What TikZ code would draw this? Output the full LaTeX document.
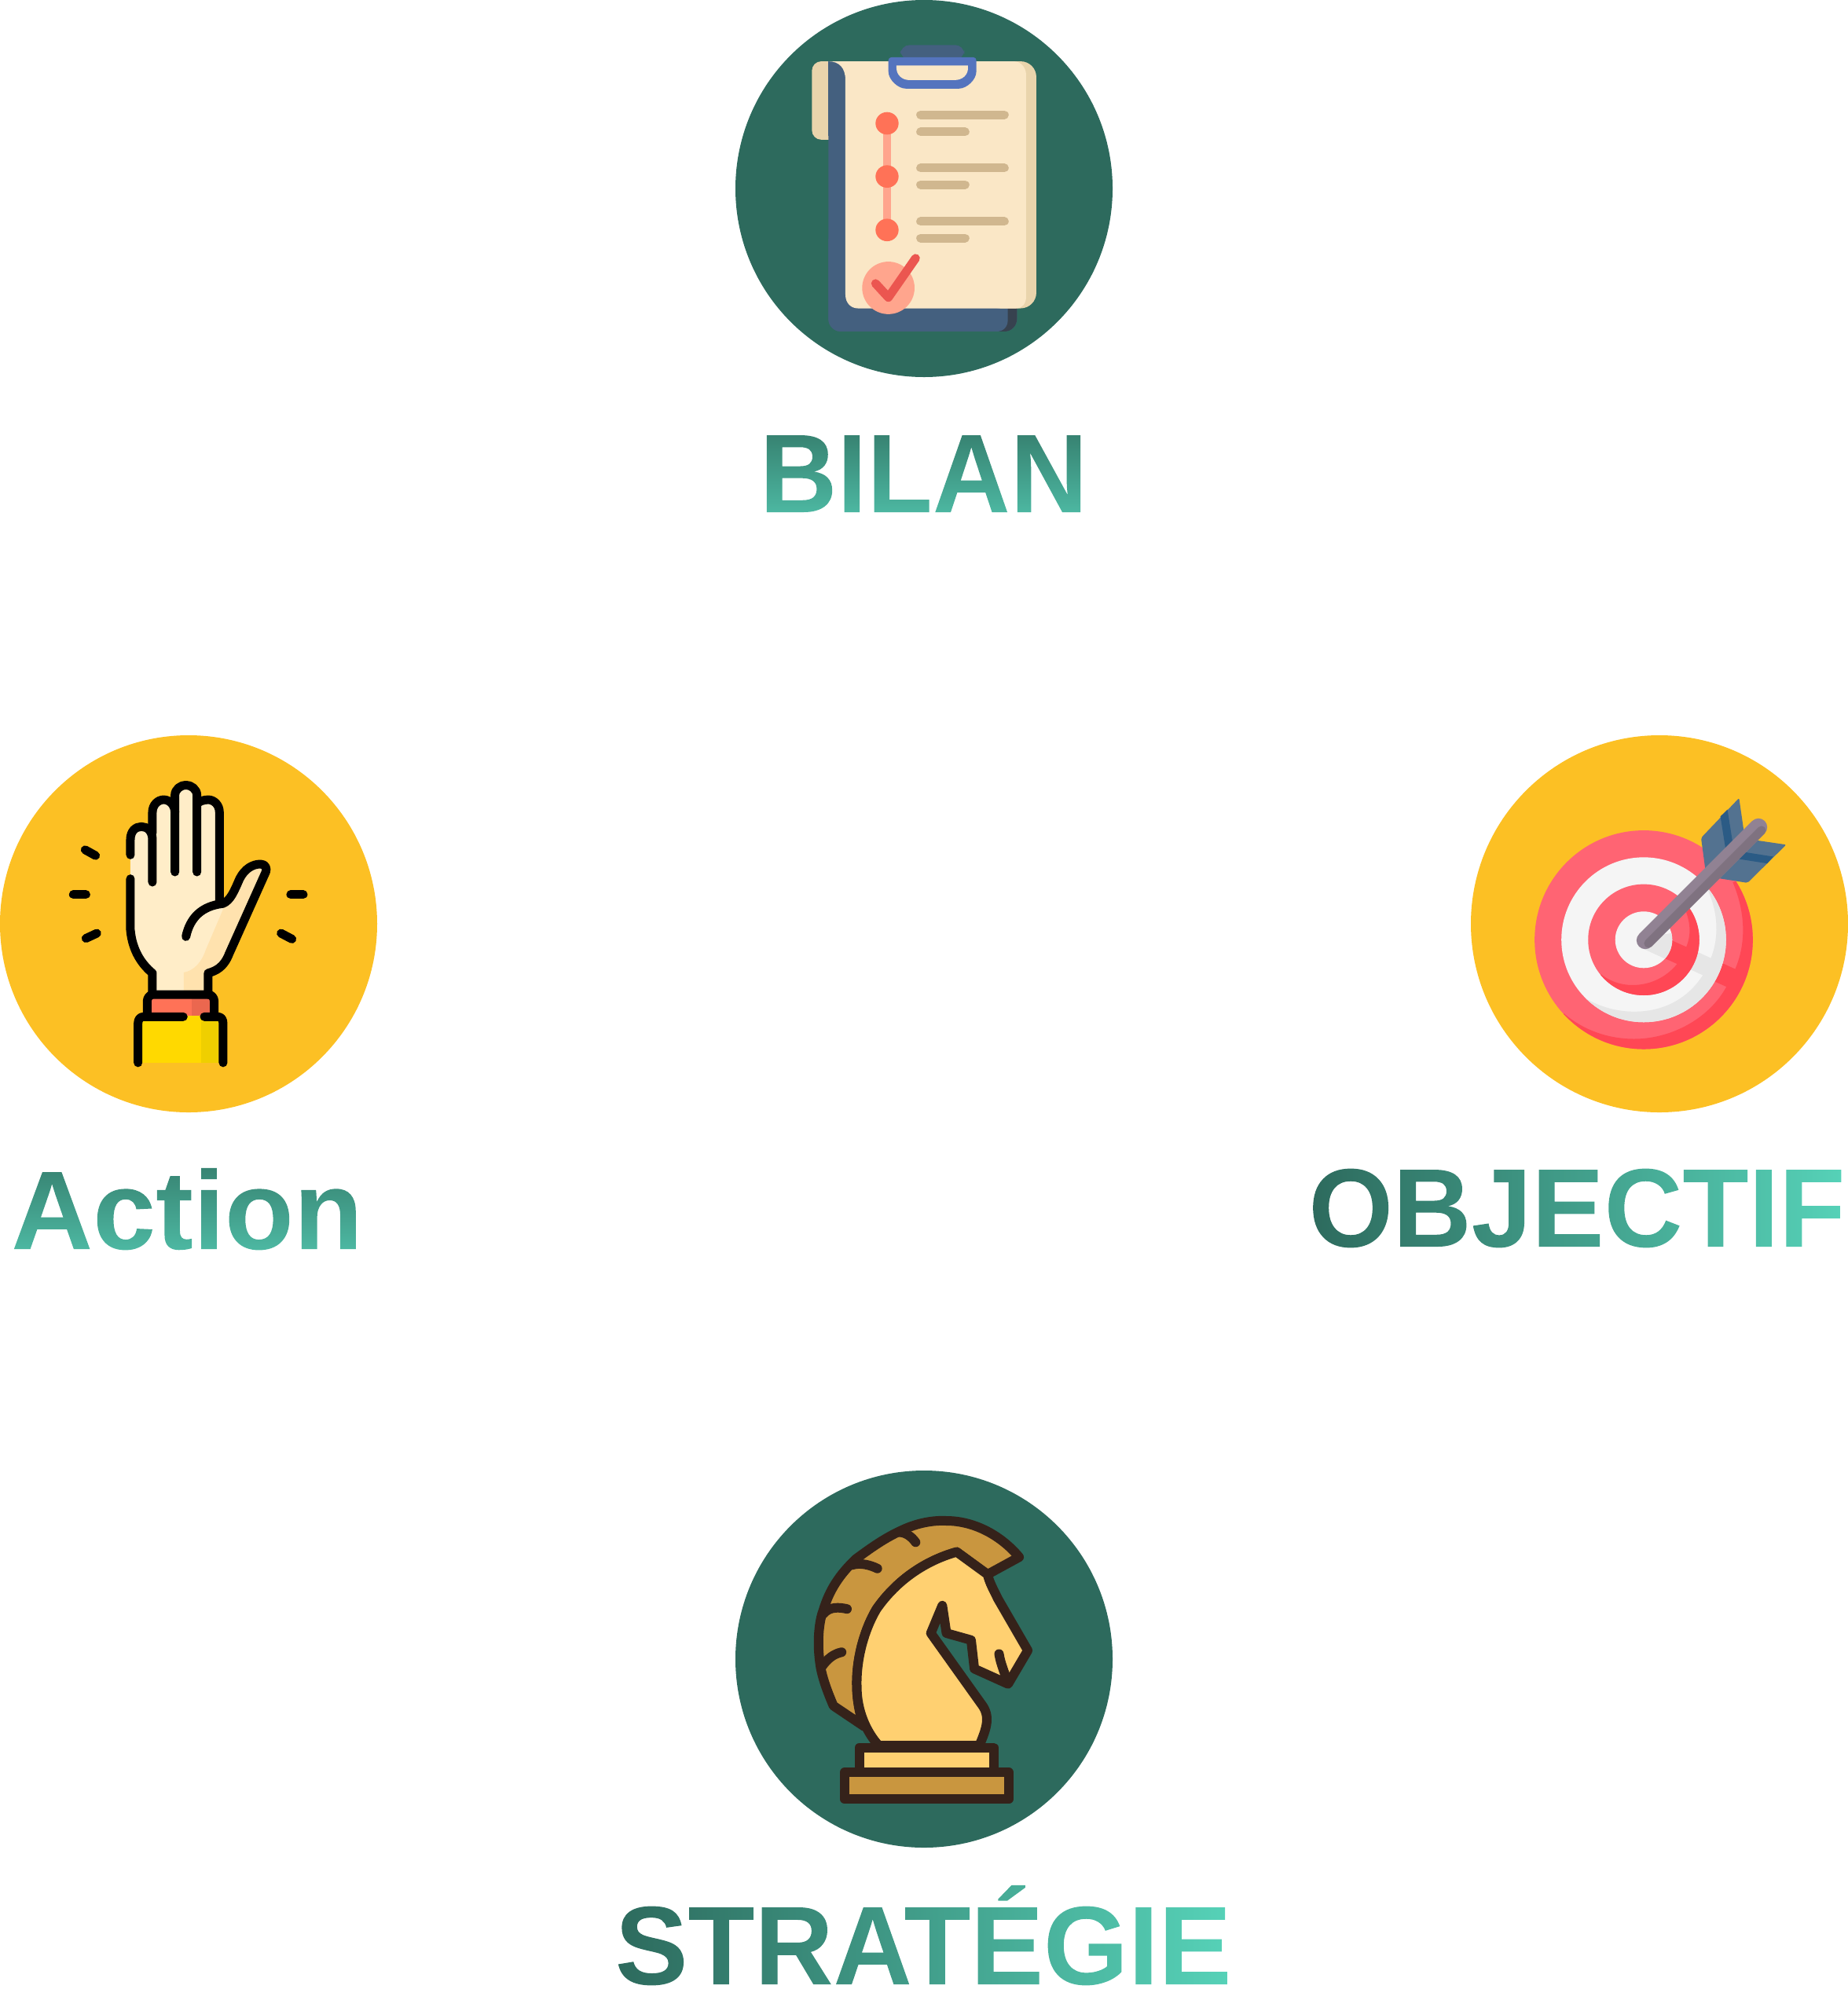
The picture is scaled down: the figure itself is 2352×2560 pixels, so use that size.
\documentclass[tikz,border=0pt]{standalone}
\usepackage{fontspec}
\usetikzlibrary{calc}
\setmainfont{Liberation Sans}
\definecolor{tealc}{HTML}{2D6A5D}
\definecolor{yellowc}{HTML}{FCC024}
\definecolor{gradtop}{HTML}{36806F}
\definecolor{gradbot}{HTML}{4EBBA5}
\definecolor{gradleft}{HTML}{2D6A5D}
\definecolor{gradright}{HTML}{56D2B8}
\definecolor{paper}{HTML}{FAE7C6}
\definecolor{papers}{HTML}{E9D4AC}
\definecolor{board}{HTML}{44607F}
\definecolor{boardd}{HTML}{37424F}
\definecolor{clipb}{HTML}{5474BE}
\definecolor{bull}{HTML}{FF7257}
\definecolor{bulll}{HTML}{FFA58D}
\definecolor{tline}{HTML}{D0B78F}
\definecolor{chk}{HTML}{EB5650}
\definecolor{skin}{HTML}{FFEDC8}
\definecolor{skind}{HTML}{FFE2AE}
\definecolor{cuff}{HTML}{FF7257}
\definecolor{cuffd}{HTML}{EB674F}
\definecolor{slv}{HTML}{FFD900}
\definecolor{slvd}{HTML}{EFCF00}
\definecolor{tpink}{HTML}{FF6473}
\definecolor{tred}{HTML}{FF4755}
\definecolor{twhite}{HTML}{F5F5F5}
\definecolor{tgrey}{HTML}{E6E6E6}
\definecolor{shaft}{HTML}{918293}
\definecolor{shaftd}{HTML}{7F7280}
\definecolor{vane}{HTML}{537290}
\definecolor{vaned}{HTML}{2B5B85}
\definecolor{kdark}{HTML}{35221A}
\definecolor{kmane}{HTML}{C9963F}
\definecolor{khead}{HTML}{FFD071}
\newfontface\fontBilan[FakeStretch=0.96]{Liberation Sans Bold}
\newfontface\fontAction[FakeStretch=1.01]{Liberation Sans Bold}
\newfontface\fontObjectif[FakeStretch=0.97]{Liberation Sans Bold}
\newfontface\fontStrategie[FakeStretch=0.975]{Liberation Sans Bold}
\newsavebox\gtbox
% text used as a clipping path, painted by a gradient
\newcommand{\gradtext}[4]{%
  \sbox\gtbox{#1\fontsize{35.6pt}{40pt}\selectfont #2}%
  \leavevmode\special{pdf:code 7 Tr}\usebox\gtbox\special{pdf:code 0 Tr}%
  \makebox[0pt][r]{\begin{tikzpicture}[baseline=0pt]
    \shade[#3] (-\wd\gtbox,-2pt) rectangle (0pt,#4);
  \end{tikzpicture}}}
\tikzset{
  labelnode/.style={inner sep=0pt,outer sep=0pt,text height=34pt,text depth=10pt},
  disc/.style={circle,minimum size=120pt,inner sep=0pt,outer sep=0pt},
  handline/.style={draw=black,line width=2.75pt,line cap=round,line join=round},
  knightline/.style={draw=kdark,line width=3pt,line cap=round,line join=round},
  vgrad/.style={top color=gradtop,bottom color=gradbot},
  hgrad/.style={left color=gradleft,right color=gradright}
}
\begin{document}
\begin{tikzpicture}[x=0.25pt,y=-0.25pt]
\useasboundingbox (0,0) rectangle (2352,2560);
% discs
\node[disc,fill=tealc] (bilan) at (1176,240) {};
\node[disc,fill=yellowc] (action) at (240,1176) {};
\node[disc,fill=yellowc] (objectif) at (2112,1176) {};
\node[disc,fill=tealc] (strategie) at (1176,2112) {};
% ---------- clipboard
\begin{scope}[shift={(920,0)},xscale=0.3333,yscale=0.4337]
\fill[papers,rounded corners=3pt] (340,180) rectangle (440,410);
\fill[board,rounded corners=4pt] (403,300) rectangle (1123,973);
\fill[board] (403,180) rectangle (500,400);
\begin{scope}
\clip[rounded corners=4pt] (403,300) rectangle (1123,973);
\fill[boardd] (1040,880) rectangle (1130,980);
\fill[board] (380,700) -- (1088,700) -- (1088,940) .. controls (1088,960) and (1070,973) .. (1045,973) -- (380,973) -- cycle;
\end{scope}
\fill[papers,rounded corners=5pt] (1000,180) rectangle (1197,905);
\fill[paper] (403,180) .. controls (445,180) and (468,200) .. (468,235) -- (468,865)
  .. controls (468,890) and (490,905) .. (515,905) -- (1120,905)
  .. controls (1145,905) and (1158,890) .. (1158,870) -- (1158,220)
  .. controls (1158,200) and (1140,180) .. (1110,180) -- cycle;
\fill[board,rounded corners=3pt] (678,175) -- (678,132) -- (922,132) -- (922,175) -- cycle;
\fill[clipb,rounded corners=1pt] (632,168) -- (968,168) -- (968,200) .. controls (968,235) and (930,260) .. (890,260) -- (710,260) .. controls (670,260) and (632,235) .. (632,200) -- cycle;
\fill[paper] (663,192) -- (936,192) -- (936,200) .. controls (936,220) and (915,235) .. (885,235) -- (712,235) .. controls (685,235) and (663,220) .. (663,200) -- cycle;
\fill[bulll] (611,362) rectangle (643,675);
\foreach \yy in {362,518,675} \fill[bull] (627,\yy) circle [x radius=44,y radius=33];
\foreach \yy in {337,493,650} \draw[tline,line width=2.75pt,line cap=round] (755,\yy) -- (1075,\yy);
\foreach \yy in {387,542,699} \draw[tline,line width=2.75pt,line cap=round] (755,\yy) -- (925,\yy);
\fill[bulll] (632,845) circle [x radius=100,y radius=77];
\draw[chk,line width=2.75pt,line cap=round,line join=round] (583,832) -- (632,873) -- (736,758);
\end{scope}
% ---------- hand
\begin{scope}[shift={(0,930)},xscale=0.3333,yscale=0.4337]
\fill[skin] (498,600) .. controls (505,650) and (540,685) .. (582,710) -- (582,780) -- (795,780) -- (795,710)
  .. controls (830,705) and (860,685) .. (875,655) -- (1015,410) .. controls (1015,395) and (1000,392) .. (985,392)
  .. controls (930,395) and (915,425) .. (905,445) -- (860,505) -- (838,505) -- (838,240)
  .. controls (838,215) and (815,203) .. (795,203) .. controls (775,203) and (752,215) .. (752,190)
  .. controls (752,175) and (730,160) .. (710,160) .. controls (690,160) and (668,175) .. (668,205)
  .. controls (668,215) and (645,203) .. (625,203) .. controls (605,203) and (582,220) .. (582,300)
  .. controls (570,290) and (555,282) .. (540,282) .. controls (515,282) and (498,300) .. (498,320) -- cycle;
\fill[skind] (860,510) .. controls (880,500) and (900,460) .. (910,440) .. controls (925,410) and (960,392) .. (995,392) .. controls (1010,392) and (1015,400) .. (1015,410) -- (875,655) .. controls (855,695) and (825,705) .. (795,710) -- (795,775) -- (702,775) -- (702,710) .. controls (740,705) and (770,680) .. (785,645) -- cycle;
\fill[cuff] (570,785) rectangle (810,850);
\fill[cuffd] (732,785) rectangle (810,850);
\fill[slv] (543,850) rectangle (835,975);
\fill[slv] (710,838) rectangle (770,852);
\fill[slvd] (768,852) rectangle (835,975);
\draw[handline] (498,365) -- (498,320) .. controls (498,295) and (518,282) .. (540,282) .. controls (562,282) and (582,295) .. (582,320) -- (582,445);
\draw[handline] (582,300) -- (582,240) .. controls (582,218) and (603,203) .. (625,203) .. controls (647,203) and (668,218) .. (668,240) -- (668,415);
\draw[handline] (668,240) -- (668,190) .. controls (668,172) and (690,160) .. (710,160) .. controls (730,160) and (752,172) .. (752,190) -- (752,415);
\draw[handline] (752,215) .. controls (760,208) and (778,203) .. (795,203) .. controls (817,203) and (838,218) .. (838,240) -- (838,500);
\draw[handline] (498,435) -- (498,585) .. controls (505,645) and (540,685) .. (582,712) -- (582,775);
\draw[handline] (710,605) .. controls (725,550) and (770,515) .. (850,508) .. controls (880,500) and (895,470) .. (915,435) .. controls (935,405) and (965,392) .. (995,392) .. controls (1015,392) and (1020,405) .. (1015,415) -- (875,655) .. controls (855,695) and (825,705) .. (795,712) -- (795,775);
\draw[handline] (562,838) -- (562,795) .. controls (562,785) and (570,778) .. (580,775) -- (800,775) .. controls (810,778) and (818,785) .. (818,795) -- (818,838);
\draw[handline] (527,975) -- (527,860) .. controls (527,848) and (535,840) .. (548,840) -- (700,840);
\draw[handline] (780,840) -- (832,840) .. controls (845,840) and (852,848) .. (852,860) -- (852,975);
\draw[handline] (325,350) -- (365,367);
\draw[handline] (280,481) -- (328,481);
\draw[handline] (328,610) -- (370,595);
\draw[handline] (1110,481) -- (1158,481);
\draw[handline] (1073,595) -- (1115,612);
\end{scope}
% ---------- target
\begin{scope}[shift={(1650,930)},xscale=0.4478,yscale=0.4337]
\fill[tpink] (987,614) circle [x radius=310,y radius=321];
\begin{scope}
\clip (987,614) circle [x radius=310,y radius=321];
\fill[tred] (1240,445) .. controls (1275,530) and (1280,620) .. (1247,700) -- (1120,640) -- (1090,690) -- (1222,752)
  .. controls (1170,850) and (1060,905) .. (960,905) .. controls (880,905) and (810,875) .. (760,830) -- (700,1000) -- (1400,1000) -- (1400,400) -- cycle;
\end{scope}
\fill[twhite] (987,614) circle [x radius=234,y radius=242];
\begin{scope}
\clip (987,614) circle [x radius=234,y radius=242];
\fill[tgrey] (1170,470) .. controls (1200,540) and (1200,610) .. (1178,668) -- (1040,602) -- (1010,650) -- (1155,718)
  .. controls (1110,790) and (1040,825) .. (960,825) .. controls (910,825) and (860,810) .. (820,785) -- (760,950) -- (1300,950) -- (1300,400) -- cycle;
\end{scope}
\fill[tpink] (987,614) circle [x radius=158,y radius=163];
\begin{scope}
\clip (987,614) circle [x radius=158,y radius=163];
\fill[tred] (1105,525) .. controls (1120,565) and (1122,600) .. (1108,635) -- (1000,585) -- (985,640) -- (1082,685)
  .. controls (1050,725) and (1005,747) .. (955,747) .. controls (920,747) and (890,735) .. (865,715) -- (820,850) -- (1200,850) -- (1200,450) -- cycle;
\end{scope}
\fill[twhite] (987,614) circle [x radius=81,y radius=83];
\begin{scope}
\clip (987,614) circle [x radius=81,y radius=83];
\fill[tgrey] (985,640) -- (1048,670) -- (1100,680) -- (1100,590) -- (1030,600) -- cycle;
\end{scope}
\fill[vane,rounded corners=0.5pt] (1150,315) -- (1258,198) -- (1275,320) -- (1165,430) -- cycle;
\fill[vane,rounded corners=0.5pt] (1190,432) -- (1282,447) -- (1392,335) -- (1280,318) -- cycle;
\fill[vaned] (1205,252) -- (1225,232) -- (1240,330) -- (1220,350) -- cycle;
\fill[vaned] (1262,355) -- (1355,370) -- (1338,390) -- (1245,375) -- cycle;
\end{scope}
\coordinate (shaftA) at (2094,1197);
\coordinate (shaftB) at (2238,1053);
\draw[shaft,line width=5.6pt,line cap=round] (shaftA) -- (shaftB);
\draw[shaftd,line width=2.8pt,line cap=round] ($(shaftA)+(4,4)$) -- ($(shaftB)+(4,4)$);
% ---------- knight
\begin{scope}[shift={(760,1870)},xscale=0.523,yscale=0.44]
\path[fill=kmane,knightline] (650,745) -- (575,685) .. controls (555,630) and (545,590) .. (542,560)
  .. controls (535,500) and (540,440) .. (550,410) .. controls (565,350) and (590,305) .. (630,260)
  .. controls (670,225) and (700,200) .. (740,178) .. controls (780,155) and (820,148) .. (850,150)
  .. controls (920,150) and (985,195) .. (1027,255) -- (950,305) -- (875,240)
  .. controls (800,265) and (730,320) .. (680,405) .. controls (650,465) and (630,550) .. (632,630) .. controls (633,680) and (640,715) .. (650,745) -- cycle;
\path[fill=khead,knightline] (875,240) -- (950,305) .. controls (955,330) and (965,350) .. (975,375) -- (1048,525) -- (1000,622) -- (918,578) -- (910,495) -- (850,475) -- (840,395) -- (812,475)
  -- (935,680) .. controls (958,715) and (948,750) .. (930,800) -- (685,800)
  .. controls (655,760) and (632,700) .. (632,630) .. controls (630,550) and (650,465) .. (680,405) .. controls (730,320) and (800,265) .. (875,240) -- cycle;
\draw[knightline] (978,535) .. controls (982,565) and (992,590) .. (1000,620);
\draw[knightline] (735,183) .. controls (750,183) and (765,195) .. (775,212);
\draw[knightline] (620,278) .. controls (640,270) and (665,278) .. (682,288);
\draw[knightline] (550,420) .. controls (565,397) and (590,400) .. (608,405);
\draw[knightline] (548,570) .. controls (560,550) and (575,535) .. (595,530);
\path[fill=khead,knightline] (638,806) rectangle (965,878);
\path[fill=kmane,knightline] (602,878) rectangle (1002,955);
\end{scope}
% ---------- labels
\node[labelnode] (lbilan) at (1175.5,604) {\gradtext{\fontBilan}{BILAN}{vgrad}{26pt}};
\node[labelnode] (laction) at (238,1542) {\gradtext{\fontAction}{Action}{vgrad}{28pt}};
\node[labelnode] (lobjectif) at (2007,1539) {\gradtext{\fontObjectif}{OBJECTIF}{hgrad}{28pt}};
\node[labelnode] (lstrategie) at (1175,2478) {\gradtext{\fontStrategie}{STRATÉGIE}{hgrad}{36pt}};
\end{tikzpicture}
\end{document}
